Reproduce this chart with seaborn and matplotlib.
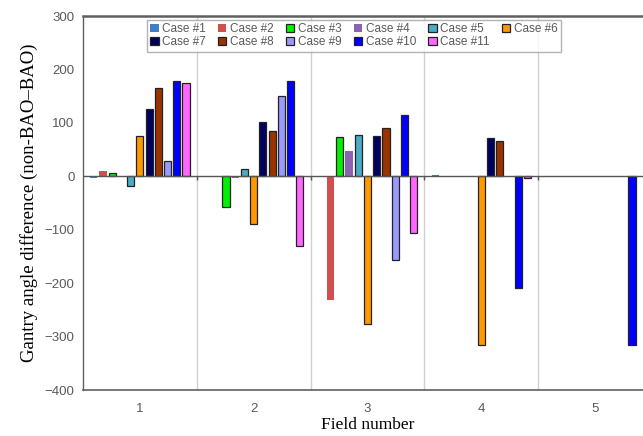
import numpy as np
import pandas as pd
import matplotlib
matplotlib.use('Agg')
import matplotlib.pyplot as plt
from matplotlib.patches import Patch
import seaborn as sns

# Dados
fields = ['1', '2', '3', '4', '5']
cases = ['Case #%d' % i for i in range(1, 12)]

case1 = [-3, 0, 0, 3, 0]
case2 = [9, 0, -231, 0, 0]
case3 = [6, -57, 73, 0, 0]
case4 = [0, -3, 47, 0, 0]
case5 = [-18, 13, 77, 0, 0]
case6 = [75, -90, -276, -315, 0]
case7 = [125, 101, 75, 71, 0]
case8 = [165, 84, 90, 66, 0]
case9 = [28, 150, -156, 0, 0]
case10 = [179, 179, 114, -210, -315]
case11 = [174, -130, -107, -4, 0]
valores = [case1, case2, case3, case4, case5, case6,
           case7, case8, case9, case10, case11]

cores = ['#3F7FC6', '#D0504D', '#00F000', '#8A64B0', '#4BACC6', '#FF9900',
         '#000060', '#993300', '#9999FF', '#0000FF', '#FF66FF']
com_borda = [False, False, True, False, True, True,
             True, True, True, True, True]

linhas = []
for c, vals in zip(cases, valores):
    for f, v in zip(fields, vals):
        linhas.append({'Field': f, 'Case': c, 'Valor': v})
df = pd.DataFrame(linhas)

sns.set_style('white')
plt.rcParams['font.family'] = ['Liberation Sans', 'DejaVu Sans']

fig = plt.figure(figsize=(6.43, 4.36), dpi=100)
ax = fig.add_axes([83 / 643, 46 / 436, 569 / 643, 374 / 436])

sns.barplot(data=df, x='Field', y='Valor', hue='Case', palette=cores,
            width=0.89, gap=0.22, saturation=1, legend=False, ax=ax)

for cont, borda in zip(ax.containers, com_borda):
    for barra in cont:
        if borda and barra.get_height() != 0:
            barra.set_edgecolor('#222222')
            barra.set_linewidth(0.9)
        else:
            barra.set_linewidth(0)

ax.set_xlim(-0.5, len(fields) - 0.5)
ax.set_ylim(-400, 300)
ax.set_yticks(range(-400, 301, 100))

# linhas de separacao entre campos
seps = np.arange(0.5, len(fields) - 0.5, 1)
for s in seps:
    ax.axvline(s, color='#D0D0D0', lw=1, zorder=0)
ax.axhline(0, color='#555555', lw=1, zorder=3)
ax.vlines(seps, -7, 0, color='#555555', lw=1, zorder=3)

for lado in ['left', 'bottom', 'top', 'right']:
    ax.spines[lado].set_color('#606060')
ax.spines['top'].set_linewidth(1.8)
ax.spines['left'].set_linewidth(1.0)
ax.spines['bottom'].set_linewidth(1.2)

ax.tick_params(axis='both', length=0, labelsize=9.5, colors='#595959', pad=6)
ax.tick_params(axis='x', pad=9)

ax.set_xlabel('Field number', family='Liberation Serif', fontsize=12.5,
              color='black', labelpad=2)
ax.set_ylabel('Gantry angle difference (non-BAO\u2013BAO)',
              family='Liberation Serif', fontsize=13.5, color='black', labelpad=5)

# legenda em linhas (matplotlib preenche por coluna)
handles = [Patch(facecolor=c, edgecolor='#222222' if b else c,
                 linewidth=0.9 if b else 0)
           for c, b in zip(cores, com_borda)]
ordem = [0, 6, 1, 7, 2, 8, 3, 9, 4, 10, 5]
leg = ax.legend([handles[i] for i in ordem], [cases[i] for i in ordem],
                ncol=6, loc='upper left',
                bbox_to_anchor=(0.112, 0.99), fontsize=8.5,
                labelcolor='#595959', frameon=True, fancybox=False,
                edgecolor='#A0A0A0', handlelength=0.7, handleheight=0.7,
                handletextpad=0.3, columnspacing=1.05, borderpad=0.3,
                labelspacing=0.1, borderaxespad=0)
leg.get_frame().set_linewidth(1.0)

fig.savefig('out.png', dpi=100)
